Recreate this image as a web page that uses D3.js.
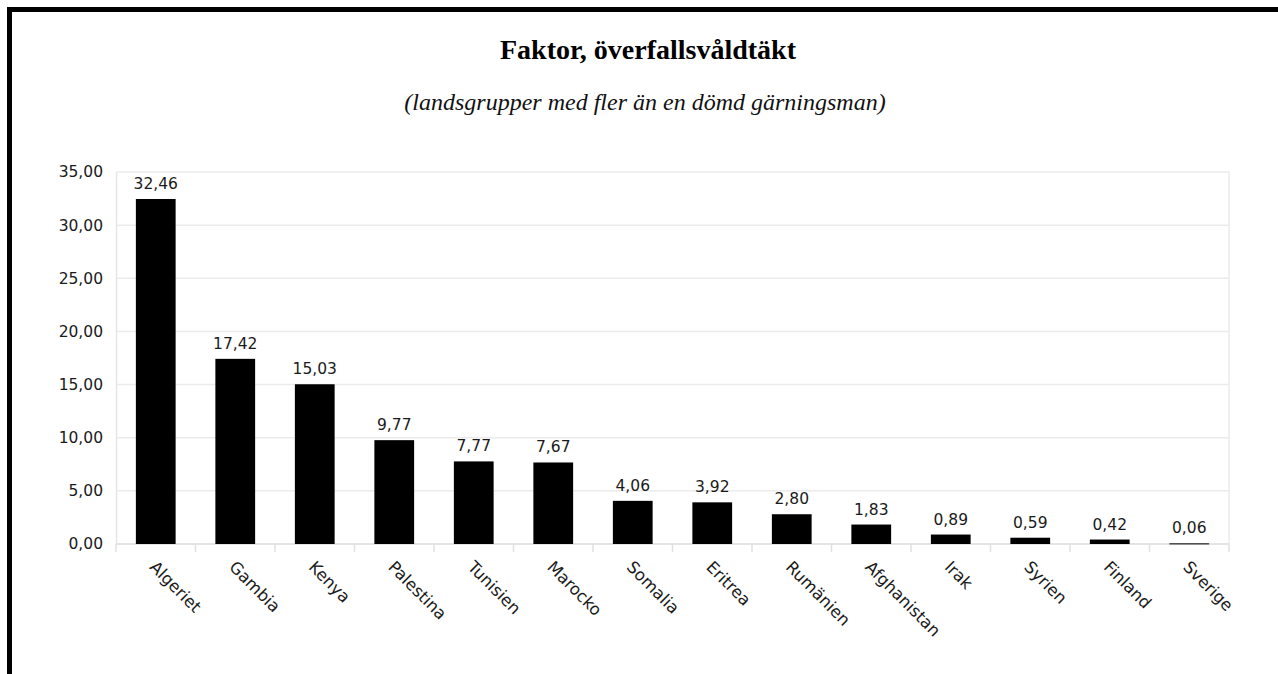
<!DOCTYPE html>
<html>
<head>
<meta charset="utf-8">
<script src="https://cdn.jsdelivr.net/npm/d3@7"></script>
<style>
  html, body { margin: 0; padding: 0; background: #fff; overflow: hidden; }
</style>
</head>
<body>
<svg id="chart" width="1278" height="674"></svg>
<script>
const categories = ["Algeriet","Gambia","Kenya","Palestina","Tunisien","Marocko","Somalia","Eritrea","Rumänien","Afghanistan","Irak","Syrien","Finland","Sverige"];
const values = [32.46,17.42,15.03,9.77,7.77,7.67,4.06,3.92,2.80,1.83,0.89,0.59,0.42,0.06];
const yTicks = [0,5,10,15,20,25,30,35];
const title = "Faktor, överfallsvåldtäkt";
const subtitle = "(landsgrupper med fler än en dömd gärningsman)";

const svg = d3.select("#chart");
const W = 1278, H = 674;
const plot = {left: 116, right: 1229, top: 172, bottom: 544};
const fmt = v => v.toFixed(2).replace(".", ",");

// outer border
svg.append("rect").attr("x", 9.5).attr("y", 9.5).attr("width", W + 20).attr("height", H + 20)
  .attr("fill", "#fff").attr("stroke", "#000").attr("stroke-width", 5);

// titles
svg.append("text").attr("x", 648).attr("y", 59).attr("text-anchor", "middle")
  .attr("font-family", "Liberation Serif, serif").attr("font-weight", "bold")
  .attr("font-size", 28).attr("fill", "#000").text(title);
svg.append("text").attr("x", 645).attr("y", 110).attr("text-anchor", "middle")
  .attr("font-family", "Liberation Serif, serif").attr("font-style", "italic")
  .attr("font-size", 24).attr("fill", "#111").text(subtitle);

const x = d3.scaleBand().domain(categories).range([plot.left, plot.right]).paddingInner(0.5).paddingOuter(0.25);
const y = d3.scaleLinear().domain([0, 35]).range([plot.bottom, plot.top]);

// gridlines
svg.append("g").selectAll("line").data(yTicks).join("line")
  .attr("x1", plot.left).attr("x2", plot.right)
  .attr("y1", d => y(d)).attr("y2", d => y(d))
  .attr("stroke", "#ebebeb").attr("stroke-width", 1.5);
// right border of plot area
svg.append("line").attr("x1", plot.right).attr("x2", plot.right).attr("y1", plot.top).attr("y2", plot.bottom)
  .attr("stroke", "#ebebeb").attr("stroke-width", 1.5);

// y axis
const yAxis = svg.append("g").attr("transform", `translate(${plot.left},0)`)
  .call(d3.axisLeft(y).tickValues(yTicks).tickFormat(fmt).tickSize(0).tickPadding(13));
yAxis.select(".domain").attr("stroke", "#e6e6e6").attr("stroke-width", 1.5);
yAxis.selectAll("text").attr("font-family", "DejaVu Sans, sans-serif").attr("font-size", 15.5).attr("fill", "#1a1a1a");

// x axis ticks at category boundaries
const boundaries = d3.range(categories.length + 1).map(i => plot.left + i * (plot.right - plot.left) / categories.length);
svg.append("g").selectAll("line").data(boundaries).join("line")
  .attr("x1", d => d).attr("x2", d => d).attr("y1", plot.bottom).attr("y2", plot.bottom + 8)
  .attr("stroke", "#e0e0e0").attr("stroke-width", 1.5);
svg.append("line").attr("x1", plot.left).attr("x2", plot.right).attr("y1", plot.bottom).attr("y2", plot.bottom)
  .attr("stroke", "#e0e0e0").attr("stroke-width", 1.5);

// bars
svg.append("g").selectAll("rect").data(values).join("rect")
  .attr("x", (d, i) => x(categories[i]))
  .attr("width", x.bandwidth())
  .attr("y", d => y(d))
  .attr("height", d => Math.max(1, y(0) - y(d)))
  .attr("fill", "#000");

// value labels
svg.append("g").selectAll("text").data(values).join("text")
  .attr("x", (d, i) => x(categories[i]) + x.bandwidth() / 2)
  .attr("y", d => y(d) - 10)
  .attr("text-anchor", "middle")
  .attr("font-family", "DejaVu Sans, sans-serif").attr("font-size", 15.5).attr("fill", "#1a1a1a")
  .text(fmt);

// category labels
svg.append("g").selectAll("text").data(categories).join("text")
  .attr("transform", d => `translate(${x(d) + x.bandwidth() / 2 - 3},${plot.bottom + 20}) rotate(45)`)
  .attr("text-anchor", "start")
  .attr("dy", "0.35em")
  .attr("font-family", "DejaVu Sans, sans-serif").attr("font-size", 16.5).attr("fill", "#1a1a1a")
  .text(d => d);
</script>
</body>
</html>
